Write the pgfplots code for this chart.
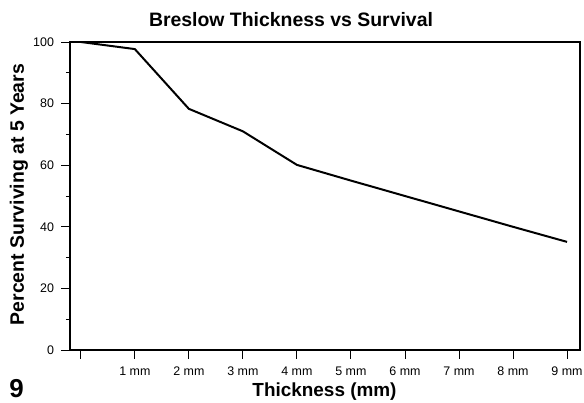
\documentclass[border=0pt]{standalone}
\usepackage{fontspec}
\setmainfont{Liberation Sans}
\usepackage{pgfplots}
\pgfplotsset{compat=1.18}
\usetikzlibrary{calc}

\begin{document}
\begin{tikzpicture}
\begin{axis}[
    name=ax,
    scale only axis,
    width=510bp, height=308bp,
    xmin=-0.2, xmax=9.24,
    ymin=0, ymax=100,
    axis line style={line width=1.3pt},
    tick pos=left,
    tick align=outside,
    major tick length=8.5bp,
    minor tick length=4bp,
    tick style={line width=0.9pt, black},
    xtick={0,1,2,3,4,5,6,7,8,9},
    xticklabels={,1 mm,2 mm,3 mm,4 mm,5 mm,6 mm,7 mm,8 mm,9 mm},
    ytick={0,20,40,60,80,100},
    minor ytick={10,30,50,70,90},
    /pgf/number format/assume math mode=true,
    xticklabel style={font=\fontsize{12.5}{13}\selectfont, anchor=base, yshift=-17bp},
    yticklabel style={font=\fontsize{12.5}{13}\selectfont, xshift=-4bp},
    clip=false,
]
\addplot[black, line width=2pt] coordinates {
    (0,100)
    (1,97.7)
    (2,78.3)
    (3,71.0)
    (4,60.1)
    (5,55.0)
    (6,50.0)
    (7,45.0)
    (8,40.0)
    (9,35.1)
};
\end{axis}
% page frame 584 x 403, axis box at (70,42)-(580,350) from the top left
\coordinate (O) at ($(ax.south west)+(-70bp,-53bp)$);
\node[anchor=base, font=\fontsize{19.5}{20}\selectfont\bfseries]
    at ($(O)+(291bp,376bp)$) {Breslow Thickness vs Survival};
\node[anchor=base, rotate=90, font=\fontsize{19.5}{20}\selectfont\bfseries]
    at ($(O)+(24bp,208.5bp)$) {Percent Surviving at 5 Years};
\node[anchor=base, font=\fontsize{19}{20}\selectfont\bfseries]
    at ($(O)+(324.5bp,7bp)$) {Thickness (mm)};
\node[anchor=base, font=\fontsize{26}{27}\selectfont\bfseries]
    at ($(O)+(16.5bp,6bp)$) {9};
\pgfresetboundingbox
\path[use as bounding box] (O) rectangle ++(584bp,403bp);
\end{tikzpicture}
\end{document}
